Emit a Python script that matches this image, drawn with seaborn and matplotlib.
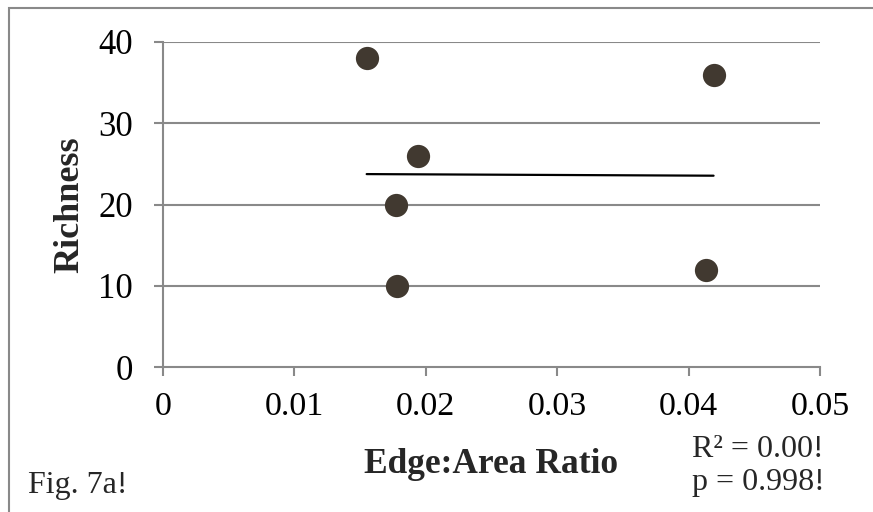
import numpy as np
import pandas as pd
import seaborn as sns
import matplotlib.pyplot as plt
from matplotlib.patches import Rectangle

# values (Fig. 7a)
edge_area = [0.0155, 0.0419, 0.0194, 0.0177, 0.0178, 0.0413]
richness = [38, 36, 26, 20, 10, 12]
x_ticks = [0, 0.01, 0.02, 0.03, 0.04, 0.05]
x_tick_labels = ["0", "0.01", "0.02", "0.03", "0.04", "0.05"]
y_ticks = [0, 10, 20, 30, 40]
stats_lines = ["R\u00b2 = 0.00!", "p = 0.998!"]
fig_label = "Fig. 7a!"

GREY = "#898989"
DOT = "#413930"

sns.set_theme(style="white")
plt.rcParams["font.family"] = ["Liberation Serif", "DejaVu Serif"]

df = pd.DataFrame({"EdgeArea": edge_area, "Richness": richness})

fig = plt.figure(figsize=(8.73, 5.12), dpi=100)
ax = fig.add_axes([163 / 873, 1 - 367 / 512, 657 / 873, 325 / 512])

sns.regplot(
    data=df, x="EdgeArea", y="Richness", ax=ax, ci=None, truncate=True,
    scatter_kws={"s": 280, "color": DOT, "alpha": 1, "linewidths": 0, "zorder": 3},
    line_kws={"color": "black", "lw": 1.6, "zorder": 4},
)

ax.set_xlim(0, 0.05)
ax.set_ylim(0, 40)
ax.set_xticks(x_ticks)
ax.set_xticklabels(x_tick_labels)
ax.set_yticks(y_ticks)

# horizontal gridlines only, grey like the axes
for yv in y_ticks[1:]:
    ax.axhline(yv, color=GREY, lw=1.5, zorder=1)

for side in ["top", "right"]:
    ax.spines[side].set_visible(False)
for side in ["left", "bottom"]:
    ax.spines[side].set_color(GREY)
    ax.spines[side].set_linewidth(1.5)

ax.tick_params(axis="both", direction="out", length=6.5, width=1.5, color=GREY)
ax.tick_params(axis="x", labelsize=24.5, pad=11, bottom=True)
ax.tick_params(axis="y", labelsize=25, pad=15, left=True)
for lab in ax.get_xticklabels() + ax.get_yticklabels():
    lab.set_color("black")

ax.set_xlabel("Edge:Area Ratio", fontsize=25.5, fontweight="bold", va="baseline")
ax.xaxis.set_label_coords(0.5, (367 - 473) / 325)
ax.set_ylabel("Richness", fontsize=26, fontweight="bold", ha="center", va="center")
ax.yaxis.set_label_coords((70 - 163) / 657, 0.5)

fig.text(692 / 873, 1 - 457 / 512, stats_lines[0], fontsize=23, ha="left", va="baseline")
fig.text(692 / 873, 1 - 490 / 512, stats_lines[1], fontsize=23, ha="left", va="baseline")
fig.text(28 / 873, 1 - 493 / 512, fig_label, fontsize=23, ha="left", va="baseline")

# frame around the figure (right/bottom edges fall outside the image)
fig.patches.append(Rectangle((9 / 873, -0.1), 1.2, 1 - 8 / 512 + 0.1,
                             transform=fig.transFigure, fill=False,
                             edgecolor=GREY, lw=1.5))

fig.savefig("out.png", dpi=100)
